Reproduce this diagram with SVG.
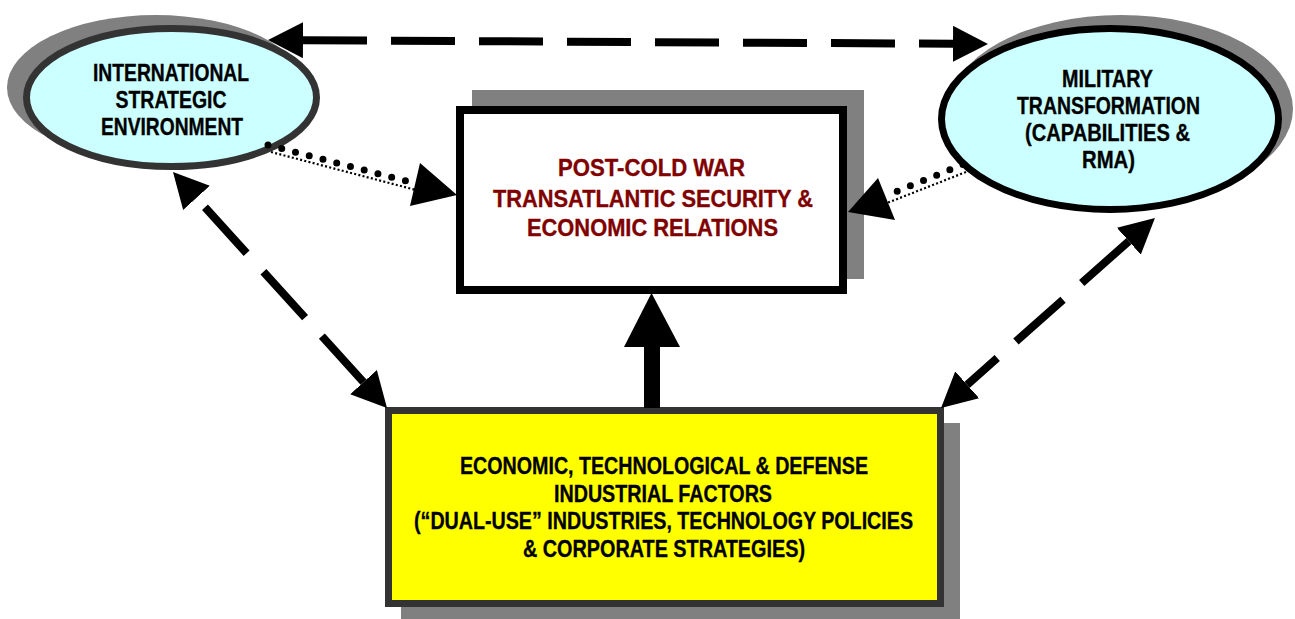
<svg xmlns="http://www.w3.org/2000/svg" width="1295" height="619" viewBox="0 0 1295 619">
  <style>
    .lbl { font-family: "Liberation Sans Narrow", "Liberation Sans", Arial, sans-serif; font-weight: bold; font-size: 24px; text-anchor: middle; fill: #000; stroke: #000; stroke-width: 0.35px; }
    .red { fill: #800000; stroke: #800000; }
    .shadow { fill: #808080; stroke: none; }
    .oval { fill: #CCFFFF; stroke-width: 7; }
    .dash { fill: none; stroke: #000; stroke-width: 8; }
    .bigdots { fill: none; stroke: #000; stroke-width: 7; stroke-linecap: round; stroke-dasharray: 0 14.2; }
    .finedots { fill: none; stroke: #000; stroke-width: 2.2; stroke-dasharray: 2 2.3; }
  </style>
  <defs>
    <marker id="head" viewBox="0 0 35 36" refX="0" refY="18" markerWidth="35" markerHeight="36" markerUnits="userSpaceOnUse" orient="auto-start-reverse">
      <path d="M0,0 L35,18 L0,36 z" fill="#000"/>
    </marker>
  </defs>

  <rect width="1295" height="619" fill="#fff"/>

  <!-- International strategic environment -->
  <g id="node-environment">
    <ellipse class="shadow" cx="155.5" cy="87.5" rx="148.5" ry="72.5"/>
    <ellipse class="oval" cx="171.5" cy="97.5" rx="145" ry="69" stroke="#333"/>
    <text class="lbl" x="171" y="81" textLength="156" lengthAdjust="spacingAndGlyphs">INTERNATIONAL</text>
    <text class="lbl" x="171" y="108" textLength="111" lengthAdjust="spacingAndGlyphs">STRATEGIC</text>
    <text class="lbl" x="172" y="135" textLength="142" lengthAdjust="spacingAndGlyphs">ENVIRONMENT</text>
  </g>

  <!-- Military transformation -->
  <g id="node-military">
    <ellipse class="shadow" cx="1121" cy="109" rx="172" ry="94"/>
    <ellipse class="oval" cx="1110" cy="119" rx="168.5" ry="90.5" stroke="#000"/>
    <text class="lbl" x="1107.5" y="87" textLength="91" lengthAdjust="spacingAndGlyphs">MILITARY</text>
    <text class="lbl" x="1108.5" y="114" textLength="183" lengthAdjust="spacingAndGlyphs">TRANSFORMATION</text>
    <text class="lbl" x="1107.5" y="141" textLength="165" lengthAdjust="spacingAndGlyphs">(CAPABILITIES &amp;</text>
    <text class="lbl" x="1108.5" y="168" textLength="53" lengthAdjust="spacingAndGlyphs">RMA)</text>
  </g>

  <!-- Post-Cold War transatlantic relations -->
  <g id="node-relations">
    <rect class="shadow" x="472" y="90" width="392" height="189"/>
    <rect x="460" y="110" width="383" height="180" fill="#fff" stroke="#000" stroke-width="8"/>
    <text class="lbl red" x="651.5" y="176" textLength="187" lengthAdjust="spacingAndGlyphs">POST-COLD WAR</text>
    <text class="lbl red" x="653" y="206.5" textLength="320" lengthAdjust="spacingAndGlyphs">TRANSATLANTIC SECURITY &amp;</text>
    <text class="lbl red" x="652.5" y="236" textLength="251" lengthAdjust="spacingAndGlyphs">ECONOMIC RELATIONS</text>
  </g>

  <!-- Economic, technological and defense industrial factors -->
  <g id="node-factors">
    <rect class="shadow" x="401" y="423" width="559" height="200"/>
    <rect x="388.5" y="410.5" width="552" height="193" fill="#FFFF00" stroke="#333" stroke-width="7"/>
    <text class="lbl" x="664" y="474" textLength="408" lengthAdjust="spacingAndGlyphs">ECONOMIC, TECHNOLOGICAL &amp; DEFENSE</text>
    <text class="lbl" x="663" y="501.5" textLength="218" lengthAdjust="spacingAndGlyphs">INDUSTRIAL FACTORS</text>
    <text class="lbl" x="663.5" y="529" textLength="499" lengthAdjust="spacingAndGlyphs">(“DUAL-USE” INDUSTRIES, TECHNOLOGY POLICIES</text>
    <text class="lbl" x="664" y="556.5" textLength="282" lengthAdjust="spacingAndGlyphs">&amp; CORPORATE STRATEGIES)</text>
  </g>

  <g id="connectors">
    <!-- environment <-> military -->
    <line class="dash" x1="303" y1="40.2" x2="953" y2="43.8" stroke-dasharray="64 24" marker-start="url(#head)" marker-end="url(#head)"/>
    <!-- environment <-> factors -->
    <line class="dash" x1="363.5" y1="382.1" x2="196.5" y2="197.9" stroke-dasharray="62 25" marker-start="url(#head)" marker-end="url(#head)"/>
    <!-- military <-> factors -->
    <line class="dash" x1="1128.8" y1="241.2" x2="967.2" y2="384.8" stroke-dasharray="63 25" marker-start="url(#head)" marker-end="url(#head)"/>

    <!-- environment -> relations (dotted) -->
    <line class="bigdots" x1="268" y1="145" x2="412" y2="182.5"/>
    <line class="finedots" x1="271" y1="152" x2="416" y2="190"/>
    <polygon points="457,195 420,163 410,206" fill="#000"/>

    <!-- military -> relations (dotted) -->
    <line class="bigdots" x1="963" y1="164.5" x2="894" y2="192.5"/>
    <line class="finedots" x1="966" y1="172" x2="887" y2="203"/>
    <polygon points="848,212 878,178 895,220" fill="#000"/>

    <!-- factors -> relations (solid, heavy) -->
    <rect x="644" y="346" width="16" height="62" fill="#000"/>
    <polygon points="651.5,293 624,347 680,347" fill="#000"/>
  </g>
</svg>
